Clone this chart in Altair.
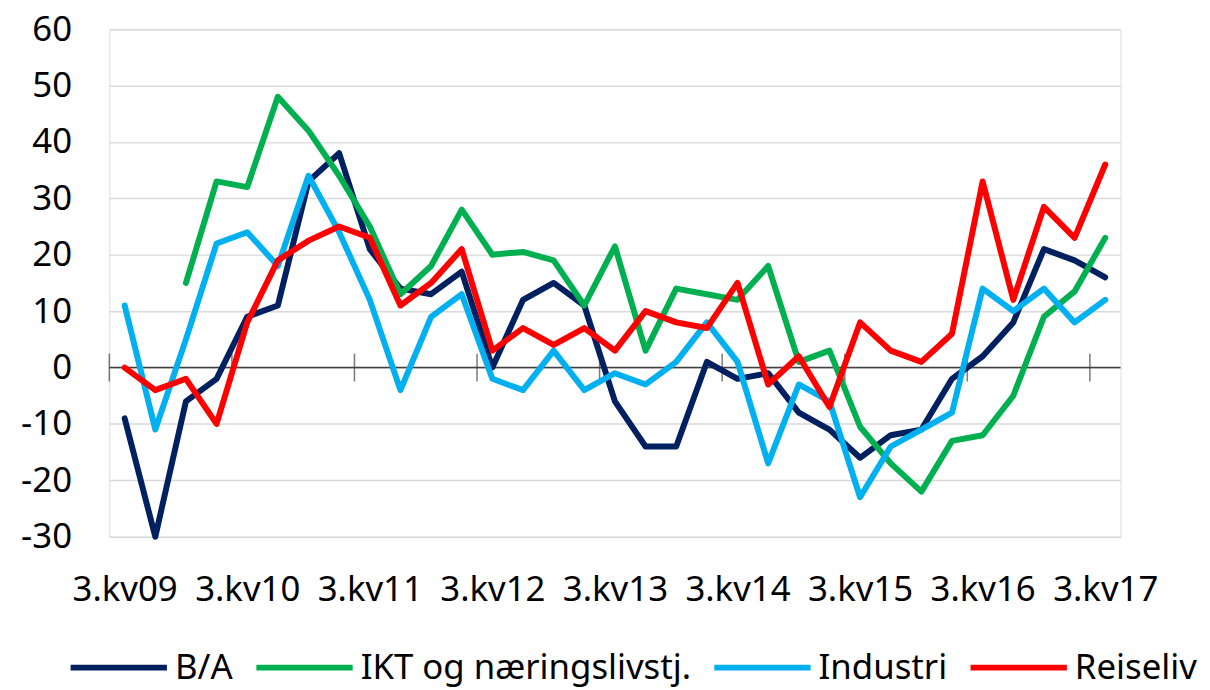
import altair as alt
import pandas as pd

quarters = ["3.kv09", "4.kv09", "1.kv10", "2.kv10", "3.kv10", "4.kv10", "1.kv11", "2.kv11",
            "3.kv11", "4.kv11", "1.kv12", "2.kv12", "3.kv12", "4.kv12", "1.kv13", "2.kv13",
            "3.kv13", "4.kv13", "1.kv14", "2.kv14", "3.kv14", "4.kv14", "1.kv15", "2.kv15",
            "3.kv15", "4.kv15", "1.kv16", "2.kv16", "3.kv16", "4.kv16", "1.kv17", "2.kv17",
            "3.kv17"]

series_names = ["B/A", "IKT og næringslivstj.", "Industri", "Reiseliv"]
series_colors = ["#002060", "#00B050", "#00B0F0", "#FF0000"]

ba = [-9, -30, -6, -2, 9, 11, 33, 38, 21, 14, 13, 17, 0, 12, 15, 11, -6, -14, -14, 1,
      -2, -1, -8, -11, -16, -12, -11, -2, 2, 8, 21, 19, 16]
ikt = [None, None, 15, 33, 32, 48, 42, 34, 25, 13, 18, 28, 20, 20.5, 19, 11, 21.5, 3, 14, 13,
       12, 18, 1, 3, -10.5, -17, -22, -13, -12, -5, 9, 13.5, 23]
industri = [11, -11, 5, 22, 24, 18, 34, 24, 12, -4, 9, 13, -2, -4, 3, -4, -1, -3, 1, 8,
            1, -17, -3, -6, -23, -14, -11, -8, 14, 10, 14, 8, 12]
reiseliv = [0, -4, -2, -10, 8, 19, 22.5, 25, 23, 11, 15, 21, 3, 7, 4, 7, 3, 10, 8, 7,
            15, -3, 2, -7, 8, 3, 1, 6, 33, 12, 28.5, 23, 36]

label_positions = [0, 4, 8, 12, 16, 20, 24, 28, 32]
tick_positions = [-0.5, 3.5, 7.5, 11.5, 15.5, 19.5, 23.5, 27.5, 31.5]
y_ticks = [-30, -20, -10, 0, 10, 20, 30, 40, 50, 60]

rows = []
for name, vals in zip(series_names, [ba, ikt, industri, reiseliv]):
    for i, v in enumerate(vals):
        if v is not None:
            rows.append({"idx": i, "quarter": quarters[i], "series": name, "value": v})
df = pd.DataFrame(rows)

FONT = "Noto Sans"
label_expr = "[" + ",".join(f"'{q}'" for q in quarters) + "][datum.value]"

x_scale = alt.Scale(domain=[-0.5, 32.5], nice=False, zero=False)
y_scale = alt.Scale(domain=[-30, 60], nice=False, zero=False)

lines = alt.Chart(df).mark_line(strokeWidth=6, strokeJoin="round", strokeCap="round").encode(
    x=alt.X("idx:Q", scale=x_scale, title=None,
            axis=alt.Axis(values=label_positions, labelExpr=label_expr, grid=False, domain=False,
                          ticks=False, labelPadding=36, labelFontSize=35, labelFont=FONT,
                          labelColor="#000000", labelAngle=0, labelFlush=False)),
    y=alt.Y("value:Q", scale=y_scale, title=None,
            axis=alt.Axis(values=y_ticks, grid=True, gridColor="#d9d9d9", gridWidth=1.5,
                          domain=False, ticks=False, labelPadding=38, labelFontSize=35,
                          labelExpr="toString(datum.value)",
                          labelFont=FONT, labelColor="#000000", labelFlush=False)),
    color=alt.Color("series:N", scale=alt.Scale(domain=series_names, range=series_colors),
                    legend=alt.Legend(orient="none", legendX=-42, legendY=591, direction="horizontal",
                                      title=None, symbolType="stroke", symbolSize=9400,
                                      symbolStrokeWidth=6, labelFontSize=35, labelFont=FONT,
                                      labelLimit=0,
                                      labelColor="#000000", columnPadding=11, labelOffset=5)),
    order=alt.Order("idx:Q"),
)

zero_df = pd.DataFrame({"y": [0]})
zero_line = alt.Chart(zero_df).mark_rule(color="#404040", strokeWidth=1.5).encode(
    y=alt.Y("y:Q", scale=y_scale)
)

tick_df = pd.DataFrame({"pos": tick_positions, "y": [0] * len(tick_positions)})
ticks = alt.Chart(tick_df).mark_tick(orient="vertical", size=28, thickness=1.5, color="#404040").encode(
    x=alt.X("pos:Q", scale=x_scale),
    y=alt.Y("y:Q", scale=y_scale),
)

chart = alt.layer(zero_line, ticks, lines).properties(
    width=1018, height=511,
    autosize=alt.AutoSizeParams(type="none"),
    padding={"left": 102, "top": 19, "right": 82, "bottom": 150},
).configure_view(stroke="#d9d9d9", strokeWidth=1.5).configure(font=FONT)

chart.save("out.html", embed_options={"renderer": "svg", "actions": False})
